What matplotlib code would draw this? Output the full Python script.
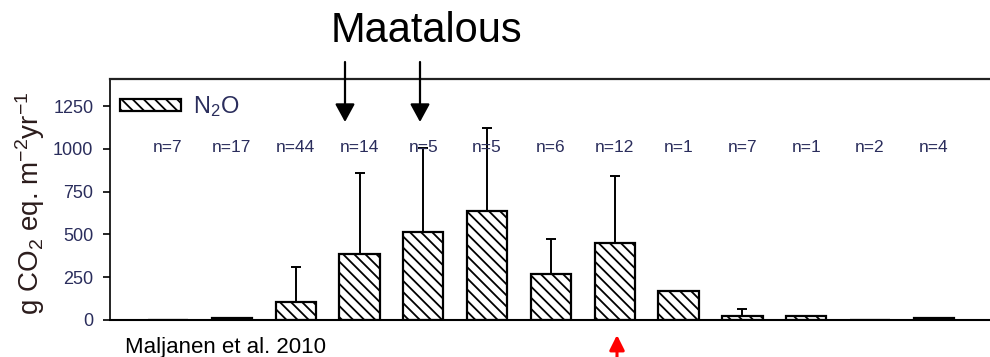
import matplotlib
matplotlib.use("Agg")
import matplotlib.pyplot as plt
import numpy as np
from matplotlib.patches import FancyArrowPatch

plt.rcParams['font.family'] = ['Liberation Sans', 'DejaVu Sans']
plt.rcParams['mathtext.fontset'] = 'custom'
plt.rcParams['mathtext.rm'] = 'Liberation Sans'
plt.rcParams['mathtext.default'] = 'regular'
plt.rcParams['hatch.linewidth'] = 1.3

# data (13 site groups, N2O emission)
n_labels = ['n=7', 'n=17', 'n=44', 'n=14', 'n=5', 'n=5', 'n=6',
            'n=12', 'n=1', 'n=7', 'n=1', 'n=2', 'n=4']
n2o_mean = [0, 12, 105, 385, 514, 637, 269, 450, 169, 25, 22, 0, 12]
n2o_sd = [np.nan, np.nan, 205, 473, 490, 484, 204, 391, np.nan, 39,
          np.nan, np.nan, np.nan]
y_ticks = [0, 250, 500, 750, 1000, 1250]

navy = '#2a2d5c'

fig = plt.figure(figsize=(9.9, 3.57), dpi=100)
ax = fig.add_axes([110/990, 1 - 320/357, 1 - 110/990, (320 - 79)/357])

x = np.arange(len(n_labels))
ax.bar(x, n2o_mean, width=0.63, facecolor='white', edgecolor='black',
       hatch='\\\\\\', linewidth=1.6, label='N$_2$O', zorder=2)

sd = np.array(n2o_sd)
has_err = ~np.isnan(sd)
ax.errorbar(x[has_err], np.array(n2o_mean)[has_err],
            yerr=[np.zeros(has_err.sum()), sd[has_err]],
            fmt='none', ecolor='black', elinewidth=1.4, capsize=3.5,
            capthick=1.4, zorder=3)

for xi, lab in zip(x, n_labels):
    ax.text(xi, 1005, lab, ha='center', va='center', fontsize=12.5,
            color=navy, zorder=4)

ax.set_xlim(-0.91, 12.88)
ax.set_ylim(0, 1408)
ax.set_yticks(y_ticks)
ax.set_xticks([])
ax.tick_params(axis='y', direction='out', length=5, width=1.2, pad=7,
               labelsize=13, labelcolor=navy)
ax.spines['right'].set_visible(False)
ax.spines['top'].set_linewidth(1.6)
ax.spines['top'].set_color('#222222')
ax.spines['left'].set_linewidth(1.2)
ax.spines['bottom'].set_linewidth(1.5)

ax.set_ylabel('g CO$_2$ eq. m$^{-2}$yr$^{-1}$', fontsize=20, color='#2b1c1c')
ax.yaxis.set_label_coords(-0.0716, 0.485)

leg = ax.legend(loc='center left', bbox_to_anchor=(0.0114, 0.885),
                frameon=False, fontsize=17, handlelength=2.6,
                handleheight=0.45, handletextpad=0.5, borderpad=0,
                borderaxespad=0)
for t in leg.get_texts():
    t.set_color(navy)

fig.text(426/990, 1 - 31/357, 'Maatalous', ha='center', va='center',
         fontsize=30, color='black')
fig.text(125/990, 1 - 353/357, 'Maljanen et al. 2010', ha='left',
         va='baseline', fontsize=16, color='black')

# arrows pointing at the agricultural groups
for ax_px in [345, 420]:
    arr = FancyArrowPatch((ax_px/990, 1 - 62/357), (ax_px/990, 1 - 122/357),
                          transform=fig.transFigure,
                          arrowstyle='-|>,head_width=0.6,head_length=1.1',
                          mutation_scale=10, color='black', linewidth=1.6,
                          shrinkA=0, shrinkB=0)
    fig.patches.append(arr)

red = FancyArrowPatch((617/990, 0.0), (617/990, 1 - 335/357),
                      transform=fig.transFigure,
                      arrowstyle='-|>,head_width=0.45,head_length=0.9',
                      mutation_scale=10, color='red', linewidth=2.2,
                      shrinkA=0, shrinkB=0)
fig.patches.append(red)

fig.savefig('out.png', dpi=100)
